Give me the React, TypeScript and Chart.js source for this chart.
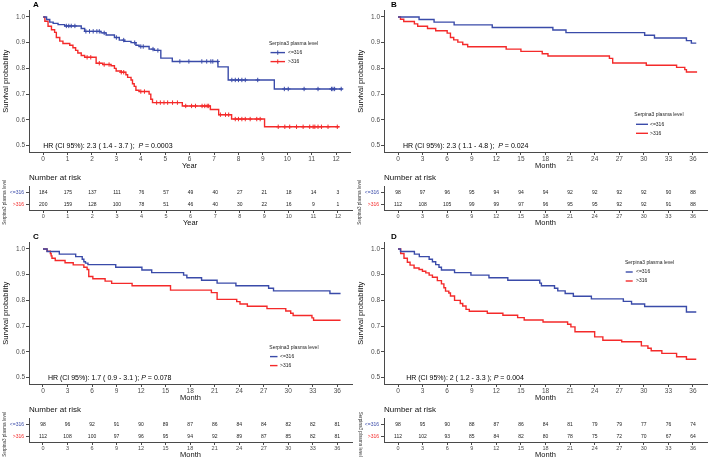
import React, { useEffect, useRef } from 'react';
import { Chart, registerables } from 'chart.js';
Chart.register(...registerables);

const FONT = "'Liberation Sans', Arial, Helvetica, sans-serif";
Chart.defaults.font.family = FONT;
const BLUE = '#3A4BA9';
const RED = '#F42A2A';
const AXIS = '#4a4a4a';
const TICKTXT = '#4d4d4d';

type Pt = [number, number];

const groupLabels = ['<=316', '>316'];
const legendTitle = 'Serpina3 plasma level';
const riskTitle = 'Number at risk';
const riskAxisTitle = 'Serpina3 plasma level';
const yTitle = 'Survival probability';
const yearTicks = [0, 1, 2, 3, 4, 5, 6, 7, 8, 9, 10, 11, 12];
const monthTicks = [0, 3, 6, 9, 12, 15, 18, 21, 24, 27, 30, 33, 36];
const survTicks = [0.5, 0.6, 0.7, 0.8, 0.9, 1.0];

// ---- Panel A (years) ----
const aLow: Pt[] = [[0, 1], [0.14, 0.99], [0.27, 0.98], [0.41, 0.975], [0.61, 0.97], [0.88, 0.965], [1.56, 0.955], [1.7, 0.944], [2.37, 0.938], [2.58, 0.93], [2.92, 0.92], [3.12, 0.91], [3.32, 0.905], [3.6, 0.9], [3.8, 0.89], [3.93, 0.885], [4.34, 0.875], [4.55, 0.87], [4.82, 0.84], [5.29, 0.827], [7.16, 0.806], [7.58, 0.755], [9.47, 0.72], [12.27, 0.72]];
const aHigh: Pt[] = [[0, 1], [0.07, 0.983], [0.2, 0.964], [0.34, 0.95], [0.47, 0.94], [0.54, 0.92], [0.68, 0.906], [0.81, 0.897], [1.09, 0.89], [1.22, 0.88], [1.33, 0.87], [1.42, 0.86], [1.56, 0.85], [1.7, 0.843], [2.17, 0.82], [2.44, 0.815], [2.78, 0.81], [2.92, 0.8], [2.99, 0.79], [3.19, 0.785], [3.39, 0.775], [3.46, 0.765], [3.6, 0.755], [3.66, 0.74], [3.73, 0.73], [3.8, 0.715], [3.93, 0.71], [4.34, 0.7], [4.41, 0.68], [4.48, 0.667], [5.7, 0.654], [6.85, 0.64], [7.19, 0.62], [7.72, 0.603], [9.07, 0.573], [12.14, 0.573]];
const aLowCensor = [0.95, 1.05, 1.15, 1.3, 1.75, 1.9, 2.05, 2.2, 2.3, 2.5, 3.0, 3.3, 3.75, 4.0, 4.1, 4.5, 4.7, 5.6, 5.97, 6.5, 6.7, 6.87, 6.95, 7.15, 7.73, 7.87, 8.0, 8.14, 8.28, 8.79, 9.88, 10.04, 10.69, 11.26, 11.81, 11.87, 11.94, 12.21];
const aHighCensor = [1.8, 1.95, 2.3, 2.5, 2.7, 3.2, 3.3, 4.0, 4.15, 4.65, 4.8, 4.95, 5.1, 5.3, 5.5, 5.84, 6.08, 6.24, 6.51, 6.62, 6.72, 6.78, 7.26, 7.47, 7.6, 7.87, 8.0, 8.14, 8.28, 8.48, 8.75, 8.89, 9.63, 9.9, 10.1, 10.38, 10.65, 10.92, 11.06, 11.13, 11.26, 11.4, 11.67, 12.05];
const aRiskLow = [184, 175, 137, 111, 76, 57, 49, 40, 27, 21, 18, 14, 3];
const aRiskHigh = [200, 159, 128, 100, 78, 51, 46, 40, 30, 22, 16, 9, 1];

// ---- Panel B (months) ----
const bLow: Pt[] = [[0, 1], [2.57, 0.99], [4.4, 0.98], [6.85, 0.969], [11.5, 0.959], [18.9, 0.949], [20.5, 0.939], [30.1, 0.929], [31.3, 0.918], [35.2, 0.908], [35.8, 0.898], [36.4, 0.898]];
const bHigh: Pt[] = [[0, 1], [0.3, 0.991], [0.7, 0.982], [2.0, 0.973], [2.4, 0.964], [3.6, 0.955], [4.6, 0.946], [6.0, 0.937], [6.4, 0.92], [6.8, 0.911], [7.3, 0.902], [7.9, 0.893], [8.5, 0.884], [13.2, 0.875], [15.0, 0.866], [17.6, 0.857], [18.3, 0.848], [25.8, 0.839], [26.2, 0.821], [30.3, 0.812], [34.0, 0.804], [35.0, 0.795], [35.2, 0.786], [36.5, 0.786]];
const bRiskLow = [98, 97, 96, 95, 94, 94, 94, 92, 92, 92, 92, 90, 88];
const bRiskHigh = [112, 108, 105, 99, 99, 97, 96, 95, 95, 92, 92, 91, 88];

// ---- Panel C (months) ----
const cLow: Pt[] = [[0, 1], [0.5, 0.99], [2.0, 0.98], [4.0, 0.97], [4.8, 0.96], [5.0, 0.95], [5.2, 0.945], [5.5, 0.939], [8.9, 0.929], [12.1, 0.918], [13.3, 0.908], [17.2, 0.898], [17.6, 0.888], [19.4, 0.878], [21.3, 0.867], [23.6, 0.857], [27.6, 0.847], [28.2, 0.837], [35.1, 0.827], [36.4, 0.827]];
const cHigh: Pt[] = [[0, 1], [0.5, 0.991], [0.9, 0.982], [1.0, 0.973], [1.1, 0.964], [1.5, 0.955], [2.7, 0.946], [3.7, 0.938], [5.0, 0.929], [5.4, 0.92], [5.6, 0.893], [6.1, 0.884], [7.6, 0.875], [8.4, 0.866], [10.9, 0.857], [15.6, 0.84], [20.6, 0.83], [21.3, 0.804], [23.7, 0.795], [24.1, 0.786], [25.0, 0.777], [27.4, 0.768], [29.7, 0.759], [30.3, 0.75], [30.6, 0.741], [32.9, 0.732], [33.1, 0.723], [36.4, 0.723]];
const cRiskLow = [98, 96, 92, 91, 90, 89, 87, 86, 84, 84, 82, 82, 81];
const cRiskHigh = [112, 108, 100, 97, 96, 95, 94, 92, 89, 87, 85, 82, 81];

// ---- Panel D (months) ----
const dLow: Pt[] = [[0, 1], [0.3, 0.99], [2.0, 0.98], [2.6, 0.97], [3.8, 0.96], [4.2, 0.95], [4.6, 0.939], [5.0, 0.929], [5.3, 0.918], [6.9, 0.908], [8.9, 0.898], [11.1, 0.888], [13.4, 0.878], [17.3, 0.867], [17.5, 0.857], [19.1, 0.847], [19.5, 0.837], [20.4, 0.827], [21.4, 0.816], [23.6, 0.806], [27.5, 0.796], [28.5, 0.786], [30.1, 0.776], [35.2, 0.755], [36.4, 0.755]];
const dHigh: Pt[] = [[0, 1], [0.33, 0.982], [0.73, 0.964], [1.14, 0.948], [1.47, 0.937], [1.96, 0.926], [2.57, 0.92], [2.98, 0.913], [3.39, 0.907], [3.8, 0.898], [4.2, 0.89], [4.8, 0.877], [5.3, 0.864], [5.6, 0.849], [5.8, 0.836], [6.2, 0.829], [6.4, 0.817], [6.9, 0.8], [7.6, 0.788], [7.9, 0.778], [8.3, 0.765], [8.7, 0.758], [10.9, 0.75], [12.8, 0.742], [14.6, 0.733], [15.4, 0.724], [17.7, 0.716], [20.7, 0.707], [21.1, 0.697], [21.6, 0.678], [24.0, 0.658], [25.0, 0.645], [27.3, 0.639], [29.7, 0.623], [30.5, 0.614], [30.9, 0.604], [32.2, 0.594], [34.0, 0.581], [35.2, 0.571], [36.4, 0.571]];
const dRiskLow = [98, 95, 90, 88, 87, 86, 84, 81, 79, 79, 77, 76, 74];
const dRiskHigh = [112, 102, 93, 85, 84, 82, 80, 78, 75, 72, 70, 67, 64];

interface Legend { x: number; y: number; l0: number; l1: number; tx: number; cross: boolean }
interface Panel {
  letter: string; letterX: number; left: number; top: number; width: number; padRight: number; riskH: number;
  xMin: number; xMax: number; xTicks: number[]; xTitle: string;
  low: Pt[]; high: Pt[]; lowCensor: number[]; highCensor: number[];
  riskLow: number[]; riskHigh: number[];
  hrPre: string; hrPost: string; hrX: number; legend: Legend; flipRiskTitle: boolean;
}

const panels: Panel[] = [
  { letter: 'A', letterX: 33, left: 0, top: 0, width: 355, padRight: 3, riskH: 59, xMin: -0.58, xMax: 12.57, xTicks: yearTicks, xTitle: 'Year',
    low: aLow, high: aHigh, lowCensor: aLowCensor, highCensor: aHighCensor, riskLow: aRiskLow, riskHigh: aRiskHigh,
    hrPre: 'HR (CI 95%): 2.3 ( 1.4 - 3.7 );  ', hrPost: ' = 0.0003', hrX: 0.0,
    legend: { x: 269, y: 43.3, l0: 270.5, l1: 285, tx: 288, cross: true }, flipRiskTitle: false },
  { letter: 'B', letterX: 36, left: 355, top: 0, width: 354, padRight: 2, riskH: 59, xMin: -1.71, xMax: 37.71, xTicks: monthTicks, xTitle: 'Month',
    low: bLow, high: bHigh, lowCensor: [], highCensor: [], riskLow: bRiskLow, riskHigh: bRiskHigh,
    hrPre: 'HR (CI 95%): 2.3 ( 1.1 - 4.8 );  ', hrPost: ' = 0.024', hrX: 0.6,
    legend: { x: 279.3, y: 115, l0: 281, l1: 293, tx: 295, cross: false }, flipRiskTitle: false },
  { letter: 'C', letterX: 33, left: 0, top: 232, width: 355, padRight: 3, riskH: 56, xMin: -1.71, xMax: 37.8, xTicks: monthTicks, xTitle: 'Month',
    low: cLow, high: cHigh, lowCensor: [], highCensor: [], riskLow: cRiskLow, riskHigh: cRiskHigh,
    hrPre: 'HR (CI 95%): 1.7 ( 0.9 - 3.1 ); ', hrPost: ' = 0.078', hrX: 0.6,
    legend: { x: 269.3, y: 115.3, l0: 270, l1: 277.5, tx: 280, cross: false }, flipRiskTitle: false },
  { letter: 'D', letterX: 36, left: 355, top: 232, width: 354, padRight: 2, riskH: 56, xMin: -1.71, xMax: 37.71, xTicks: monthTicks, xTitle: 'Month',
    low: dLow, high: dHigh, lowCensor: [], highCensor: [], riskLow: dRiskLow, riskHigh: dRiskHigh,
    hrPre: 'HR (CI 95%): 2 ( 1.2 - 3.3 ); ', hrPost: ' = 0.004', hrX: 1.0,
    legend: { x: 270, y: 30.7, l0: 270.7, l1: 277.7, tx: 281, cross: false }, flipRiskTitle: true },
];

const KM_H = 173;
const KM_BOTTOM = 152;
const RISK_TOP = 171;
const RISK_AXIS = 39;

function survAt(curve: Pt[], t: number): number {
  let s = curve[0][1];
  for (const [ct, cs] of curve) { if (ct <= t) s = cs; else break; }
  return s;
}

function axisCommon(p: Panel, height: number, tickSize: number, titleSize: number, titlePad: number) {
  return {
    type: 'linear' as const,
    min: p.xMin, max: p.xMax,
    afterBuildTicks: (s: any) => { s.ticks = p.xTicks.map((v) => ({ value: v })); },
    afterFit: (s: any) => { s.height = height; },
    grid: { display: true, drawOnChartArea: false, drawTicks: true, tickLength: 3, color: AXIS, lineWidth: 1 },
    border: { display: true, color: AXIS, width: 1 },
    ticks: { padding: 0, color: TICKTXT, font: { size: tickSize, family: FONT }, autoSkip: false, maxRotation: 0, callback: (v: any) => String(v) },
    title: { display: true, text: p.xTitle, color: '#111', font: { size: titleSize, family: FONT }, padding: { top: 0, bottom: titlePad } },
  };
}

function KMChart({ p }: { p: Panel }) {
  const ref = useRef<HTMLCanvasElement>(null);
  useEffect(() => {
    const plugin = {
      id: 'kmText',
      afterDraw(chart: any) {
        const ctx = chart.ctx;
        const xs = chart.scales.x, ys = chart.scales.y;
        ctx.save();
        ctx.textBaseline = 'middle';
        ctx.textAlign = 'left';
        ctx.fillStyle = '#000';
        ctx.font = `bold 8px ${FONT}`;
        ctx.fillText(p.letter, p.letterX, 5);
        const hx = xs.getPixelForValue(p.hrX), hy = ys.getPixelForValue(0.5);
        ctx.font = `7px ${FONT}`;
        ctx.fillText(p.hrPre, hx, hy);
        let w = ctx.measureText(p.hrPre).width;
        ctx.font = `italic 7px ${FONT}`;
        ctx.fillText('P', hx + w, hy);
        w += ctx.measureText('P').width;
        ctx.font = `7px ${FONT}`;
        ctx.fillText(p.hrPost, hx + w, hy);
        const L = p.legend;
        ctx.fillStyle = '#222';
        ctx.font = `5px ${FONT}`;
        ctx.fillText(legendTitle, L.x, L.y);
        [BLUE, RED].forEach((c, i) => {
          const yy = L.y + 9.3 + i * 9;
          ctx.strokeStyle = c;
          ctx.lineWidth = 1.4;
          ctx.beginPath(); ctx.moveTo(L.l0, yy); ctx.lineTo(L.l1, yy); ctx.stroke();
          if (L.cross) {
            const mx = (L.l0 + L.l1) / 2;
            ctx.lineWidth = 1;
            ctx.beginPath(); ctx.moveTo(mx, yy - 2.2); ctx.lineTo(mx, yy + 2.2); ctx.stroke();
          }
          ctx.fillStyle = '#222';
          ctx.fillText(groupLabels[i], L.tx, yy);
        });
        ctx.restore();
      },
    };
    const line = (curve: Pt[], color: string) => ({
      data: curve.map(([x, y]) => ({ x, y })), borderColor: color, backgroundColor: color,
      borderWidth: 1.4, stepped: 'before' as const, pointRadius: 0, fill: false, order: 2,
    });
    const cens = (times: number[], curve: Pt[], color: string) => ({
      data: times.map((t) => ({ x: t, y: survAt(curve, t) })), borderColor: color, backgroundColor: color,
      showLine: false, pointStyle: 'cross' as const, pointRadius: 2.2, pointBorderWidth: 1, borderWidth: 1, order: 1,
    });
    const chart = new Chart(ref.current!, {
      type: 'line',
      data: {
        datasets: [
          line(p.low, BLUE), line(p.high, RED),
          cens(p.lowCensor, p.low, BLUE), cens(p.highCensor, p.high, RED),
        ] as any,
      },
      options: {
        animation: false, responsive: false, events: [],
        layout: { padding: { top: 10.5, right: p.padRight, left: 0, bottom: 0 } },
        plugins: { legend: { display: false }, tooltip: { enabled: false }, title: { display: false } },
        scales: {
          x: axisCommon(p, KM_H - KM_BOTTOM, 6.5, 7.5, 2.5) as any,
          y: {
            type: 'linear', min: 0.475, max: 1.025,
            afterBuildTicks: (s: any) => { s.ticks = survTicks.map((v) => ({ value: v })); },
            afterFit: (s: any) => { s.width = 29; },
            grid: { display: true, drawOnChartArea: false, drawTicks: true, tickLength: 3, color: AXIS, lineWidth: 1 },
            border: { display: true, color: AXIS, width: 1 },
            ticks: { padding: 1, color: TICKTXT, font: { size: 6.5, family: FONT }, callback: (v: any) => Number(v).toFixed(1) },
            title: { display: true, text: yTitle, color: '#111', font: { size: 7.5, family: FONT }, padding: { top: 1, bottom: 0 } },
          },
        },
      },
      plugins: [plugin],
    });
    return () => chart.destroy();
  }, [p]);
  return (
    <canvas ref={ref} width={p.width} height={KM_H}
      style={{ position: 'absolute', left: p.left, top: p.top, width: p.width, height: KM_H }} />
  );
}

function RiskChart({ p }: { p: Panel }) {
  const ref = useRef<HTMLCanvasElement>(null);
  useEffect(() => {
    const plugin = {
      id: 'riskText',
      afterDatasetsDraw(chart: any) {
        const ctx = chart.ctx;
        ctx.save();
        ctx.textBaseline = 'middle';
        ctx.textAlign = 'center';
        ctx.fillStyle = '#222';
        ctx.font = `5px ${FONT}`;
        [p.riskLow, p.riskHigh].forEach((vals, di) => {
          const meta = chart.getDatasetMeta(di);
          meta.data.forEach((el: any, i: number) => ctx.fillText(String(vals[i]), el.x, el.y));
        });
        ctx.textAlign = 'left';
        ctx.fillStyle = '#111';
        ctx.font = `8px ${FONT}`;
        ctx.fillText(riskTitle, chart.chartArea.left, 7);
        const cy = (chart.chartArea.top + chart.chartArea.bottom) / 2 + 4;
        ctx.translate(5, cy);
        ctx.rotate(p.flipRiskTitle ? Math.PI / 2 : -Math.PI / 2);
        ctx.textAlign = 'center';
        ctx.fillStyle = '#333';
        ctx.font = `4.6px ${FONT}`;
        ctx.fillText(riskAxisTitle, 0, 0);
        ctx.restore();
      },
    };
    const ds = (vals: number[], label: string) => ({
      data: p.xTicks.map((x) => ({ x, y: label })).slice(0, vals.length),
      pointRadius: 0, showLine: false, borderColor: 'transparent',
    });
    const chart = new Chart(ref.current!, {
      type: 'line',
      data: { datasets: [ds(p.riskLow, groupLabels[0]), ds(p.riskHigh, groupLabels[1])] as any },
      options: {
        animation: false, responsive: false, events: [],
        layout: { padding: { top: 15.5, right: p.padRight, left: 0, bottom: 0 } },
        plugins: { legend: { display: false }, tooltip: { enabled: false }, title: { display: false } },
        scales: {
          x: axisCommon(p, p.riskH - RISK_AXIS, 5.5, 7.5, p.riskH - 56) as any,
          y: {
            type: 'category', labels: groupLabels, offset: true,
            afterFit: (s: any) => { s.width = 29; },
            grid: { display: true, drawOnChartArea: false, drawTicks: true, tickLength: 3, color: AXIS, lineWidth: 1, offset: false },
            border: { display: true, color: AXIS, width: 1 },
            ticks: { padding: 2, font: { size: 5, family: FONT }, color: (c: any) => (c.index === 0 ? BLUE : RED) },
          },
        },
      },
      plugins: [plugin],
    });
    return () => chart.destroy();
  }, [p]);
  return (
    <canvas ref={ref} width={p.width} height={p.riskH}
      style={{ position: 'absolute', left: p.left, top: p.top + RISK_TOP, width: p.width, height: p.riskH }} />
  );
}

export default function App() {
  return (
    <div style={{ position: 'fixed', left: 0, top: 0, width: 709, height: 459, background: '#fff', overflow: 'hidden' }}>
      {panels.map((p) => (
        <React.Fragment key={p.letter}>
          <KMChart p={p} />
          <RiskChart p={p} />
        </React.Fragment>
      ))}
    </div>
  );
}
